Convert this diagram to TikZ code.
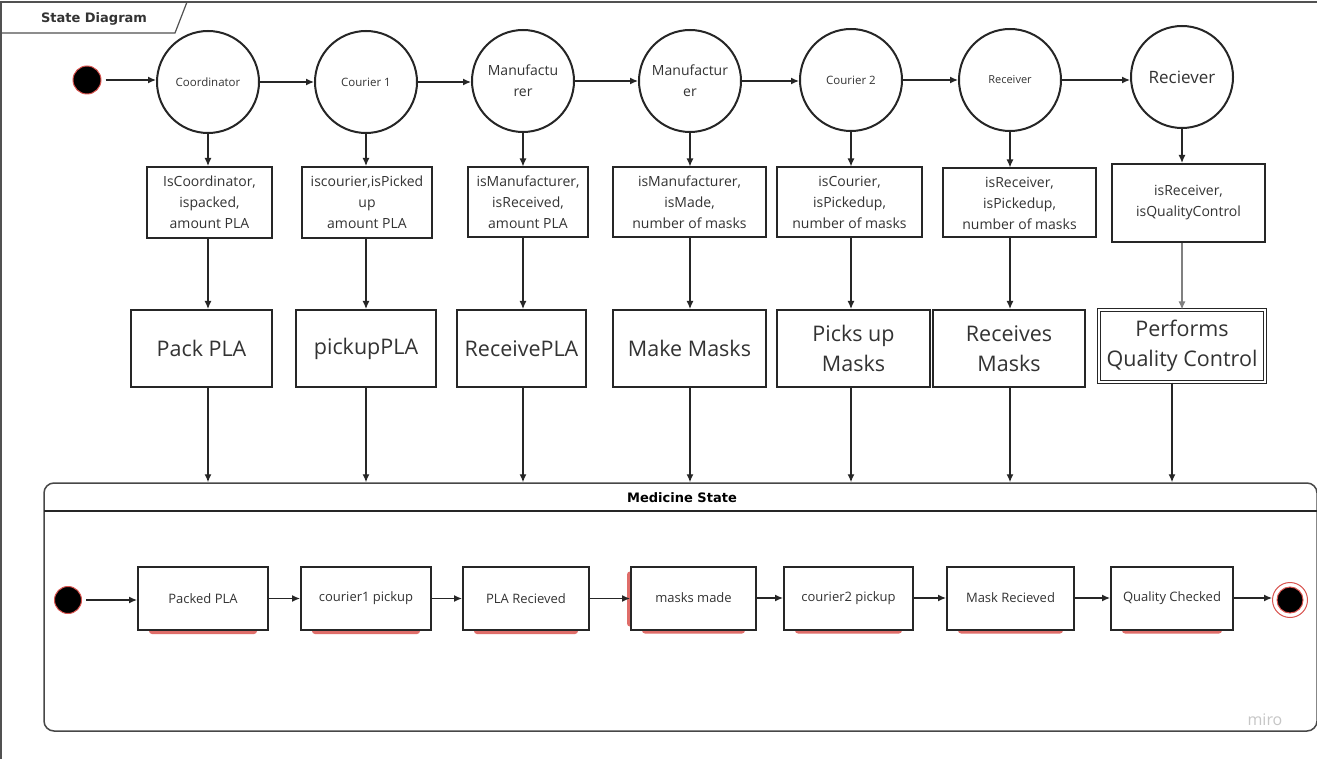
\documentclass[tikz,border=0pt]{standalone}
\usepackage{fontspec}
\setmainfont{Open Sans}
\newfontfamily\dejabold{DejaVu Sans}[BoldFont={DejaVu Sans Bold}]
\usetikzlibrary{arrows.meta,backgrounds}
\definecolor{lc}{HTML}{262626}
\definecolor{tc}{HTML}{333333}
\definecolor{redsh}{HTML}{D9534F}
\begin{document}
\begin{tikzpicture}[x=1pt,y=-1pt,
  circ/.style={circle,draw=lc,line width=2pt,minimum size=102pt,inner sep=0pt,align=center,text=tc,fill=white},
  attr/.style={rectangle,draw=lc,line width=2pt,align=center,text=tc,inner sep=0pt,font=\fontsize{14}{21}\selectfont},
  act/.style={rectangle,draw=lc,line width=2pt,align=center,text=tc,inner sep=0pt,minimum height=77pt,font=\fontsize{21.5}{30}\selectfont},
  stbox/.style={rectangle,draw=lc,line width=2pt,align=center,text=tc,inner sep=0pt,minimum height=63pt,fill=white,font=\fontsize{13}{16}\selectfont},
  arr/.style={draw=lc,line width=1.3pt,-{Latex[length=8pt,width=7pt]}},
  initst/.style={circle,fill=black,draw=redsh,line width=1pt,inner sep=0pt,minimum size=28pt}
]
\useasboundingbox (0,0) rectangle (1317,759);
% outer frame and tab
\draw[lc!80,line width=1.5pt] (1,759) -- (1,2) -- (1317,2);
\draw[lc!80,line width=1.2pt] (187,2) -- (175,33) -- (1,33);
\node[text=tc,font=\dejabold\bfseries\fontsize{13}{15}\selectfont] (title) at (94,19) {State Diagram};

% top initial state
\node[initst] (i0) at (87,80) {};
% circles
\node[circ,font=\fontsize{11.5}{14}\selectfont] (c1) at (208,82) {Coordinator};
\node[circ,font=\fontsize{11.5}{14}\selectfont] (c2) at (366,82) {Courier 1};
\node[circ,font=\fontsize{14}{21}\selectfont] (c3) at (523,81) {Manufactu\\rer};
\node[circ,font=\fontsize{14}{21}\selectfont] (c4) at (690,81) {Manufactur\\er};
\node[circ,font=\fontsize{11.5}{14}\selectfont] (c5) at (851,80) {Courier 2};
\node[circ,font=\fontsize{11}{14}\selectfont] (c6) at (1010,80) {Receiver};
\node[circ,font=\fontsize{17}{20}\selectfont] (c7) at (1182,77) {Reciever};

\draw[arr] (i0.east) ++(4pt,0) coordinate (i0e) -- (i0e -| c1.west);
\draw[arr] (c1.east) -- (c1.east -| c2.west);
\draw[arr] (c2.east) -- (c2.east -| c3.west);
\draw[arr] (c3.east) -- (c3.east -| c4.west);
\draw[arr] (c4.east) -- (c4.east -| c5.west);
\draw[arr] (c5.east) -- (c5.east -| c6.west);
\draw[arr] (c6.east) -- (c6.east -| c7.west);

% attribute boxes
\node[attr,minimum width=125pt,minimum height=71pt] (a1) at (209.5,202.5) {IsCoordinator,\\ispacked,\\amount PLA};
\node[attr,minimum width=130pt,minimum height=71pt] (a2) at (367,202.5) {iscourier,isPicked\\up\\amount PLA};
\node[attr,minimum width=120pt,minimum height=70pt] (a3) at (528,202.5) {isManufacturer,\\isReceived,\\amount PLA};
\node[attr,minimum width=153pt,minimum height=70pt] (a4) at (689.5,202.5) {isManufacturer,\\isMade,\\number of masks};
\node[attr,minimum width=145pt,minimum height=70pt] (a5) at (849.5,202.5) {isCourier,\\isPickedup,\\number of masks};
\node[attr,minimum width=153pt,minimum height=69pt] (a6) at (1019.5,203) {isReceiver,\\isPickedup,\\number of masks};
\node[attr,minimum width=153pt,minimum height=78pt] (a7) at (1188.5,203) {isReceiver,\\isQualityControl};

\draw[arr] (c1.south) -- (c1.south |- a1.north);
\draw[arr] (c2.south) -- (c2.south |- a2.north);
\draw[arr] (c3.south) -- (c3.south |- a3.north);
\draw[arr] (c4.south) -- (c4.south |- a4.north);
\draw[arr] (c5.south) -- (c5.south |- a5.north);
\draw[arr] (c6.south) -- (c6.south |- a6.north);
\draw[arr] (c7.south) -- (c7.south |- a7.north);

% action boxes
\node[act,minimum width=141pt] (p1) at (201.5,348.5) {Pack PLA};
\node[act,minimum width=140pt] (p2) at (366,348.5) {pickupPLA};
\node[act,minimum width=129pt] (p3) at (521.5,348.5) {ReceivePLA};
\node[act,minimum width=153pt] (p4) at (689.5,348.5) {Make Masks};
\node[act,minimum width=153pt] (p5) at (853.5,348.5) {Picks up\\Masks};
\node[act,minimum width=152pt] (p6) at (1009,348.5) {Receives\\Masks};
\node[act,minimum width=166pt,minimum height=72pt,line width=1pt,double=white,double distance=1.5pt] (p7) at (1182,346) {Performs\\Quality Control};

\draw[arr] (c1.south |- a1.south) -- (c1.south |- p1.north);
\draw[arr] (c2.south |- a2.south) -- (c2.south |- p2.north);
\draw[arr] (c3.south |- a3.south) -- (c3.south |- p3.north);
\draw[arr] (c4.south |- a4.south) -- (c4.south |- p4.north);
\draw[arr] (c5.south |- a5.south) -- (c5.south |- p5.north);
\draw[arr] (c6.south |- a6.south) -- (c6.south |- p6.north);
\draw[arr,draw=gray] (c7.south |- a7.south) -- (c7.south |- p7.north);

% Medicine State container
\node[draw=lc!85,line width=1.5pt,rounded corners=10pt,minimum width=1273pt,minimum height=248pt,inner sep=0pt] (med) at (680.5,607) {};
\coordinate (hl) at (44,511);
\draw[lc,line width=1.3pt] (hl) -- (hl -| med.east);
\node[text=black,font=\dejabold\bfseries\fontsize{13}{15}\selectfont] (medt) at (682,498) {Medicine State};

\draw[arr] (c1.south |- p1.south) -- (c1.south |- med.north);
\draw[arr] (c2.south |- p2.south) -- (c2.south |- med.north);
\draw[arr] (c3.south |- p3.south) -- (c3.south |- med.north);
\draw[arr] (c4.south |- p4.south) -- (c4.south |- med.north);
\draw[arr] (c5.south |- p5.south) -- (c5.south |- med.north);
\draw[arr] (c6.south |- p6.south) -- (c6.south |- med.north);
\coordinate (q7) at ([xshift=-10pt]p7.south);
\draw[arr] (q7) -- (q7 |- med.north);

% bottom row of states
\node[initst,minimum size=27pt] (i1) at (68,600) {};
\node[stbox,minimum width=130pt] (s1) at (203,598.5) {Packed PLA};
\node[stbox,minimum width=130pt] (s2) at (366,598.5) {courier1 pickup};
\node[stbox,minimum width=126pt] (s3) at (526,598.5) {PLA Recieved};
\node[stbox,minimum width=125pt] (s4) at (693.5,598) {masks made};
\node[stbox,minimum width=129pt] (s5) at (848.5,598) {courier2 pickup};
\node[stbox,minimum width=127pt] (s6) at (1010.5,598) {Mask Recieved};
\node[stbox,minimum width=122pt] (s7) at (1172,598) {Quality Checked};
\node[circle,draw=redsh,line width=1pt,minimum size=35pt,inner sep=0pt] (f0) at (1290,600) {};
\node[initst,minimum size=26pt] (f1) at (f0) {};

\begin{pgfonlayer}{background}
\fill[white] (0,0) rectangle (1317,759);
\foreach \s in {s1,s2,s3,s4,s5,s6,s7}{
  \fill[redsh!85,rounded corners=3pt] ([xshift=12pt,yshift=4pt]\s.south west) rectangle ([xshift=-12pt,yshift=-3pt]\s.south east);
}
\fill[redsh!85,rounded corners=3pt] ([xshift=-3pt,yshift=-6pt]s4.north west) rectangle ([xshift=4pt,yshift=4pt]s4.south west);
\end{pgfonlayer}

\draw[arr] ([xshift=4pt]i1.east) -- (s1.west |- i1.east);
\draw[arr] (s1.east) -- (s2.west);
\draw[arr] (s2.east) -- (s3.west);
\draw[arr] (s3.east) -- (s3.east -| s4.west);
\draw[arr] (s4.east) -- (s5.west);
\draw[arr] (s5.east) -- (s6.west);
\draw[arr] (s6.east) -- (s7.west);
\draw[arr] (s7.east) -- (s7.east -| f0.west);

\node[text=gray!45,font=\fontsize{16}{18}\selectfont] (miro) at (1265,720) {miro};
\end{tikzpicture}
\end{document}
